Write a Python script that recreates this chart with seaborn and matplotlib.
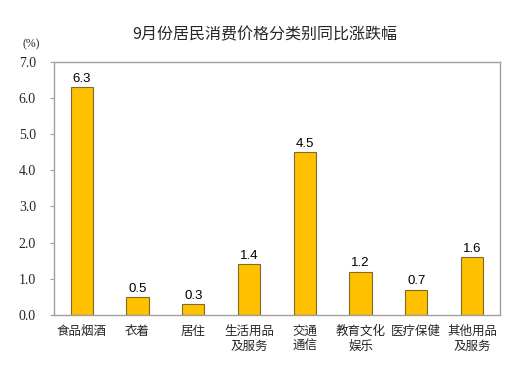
import matplotlib
matplotlib.use("Agg")
import matplotlib.pyplot as plt
import pandas as pd
import seaborn as sns

categories = ["食品烟酒", "衣着", "居住", "生活用品\n及服务", "交通\n通信", "教育文化\n娱乐", "医疗保健", "其他用品\n及服务"]
values = [6.3, 0.5, 0.3, 1.4, 4.5, 1.2, 0.7, 1.6]
yticks = [0.0, 1.0, 2.0, 3.0, 4.0, 5.0, 6.0, 7.0]

sns.set_style("white")
plt.rcParams['font.family'] = ['Noto Sans CJK SC', 'DejaVu Sans']

df = pd.DataFrame({"cat": categories, "val": values})

fig = plt.figure(figsize=(5.29, 3.78), dpi=100)
ax = fig.add_axes([0.102, 0.167, 0.843, 0.669])

sns.barplot(data=df, x="cat", y="val", color="#FFC000", width=0.4,
            edgecolor="#7F6A2A", linewidth=0.8, saturation=1, ax=ax)

for i, v in enumerate(values):
    ax.text(i, v + 0.06, f"{v:.1f}", ha="center", va="bottom",
            fontsize=9.5, family="Liberation Sans", color="black")

ax.set_ylim(0, 7)
ax.set_yticks(yticks)
ax.set_yticklabels([f"{t:.1f}" for t in yticks], family="Liberation Serif", fontsize=10)
ax.set_xlabel("")
ax.set_ylabel("")
ax.tick_params(axis="x", length=0, labelsize=9, pad=7)
for lab in ax.get_xticklabels():
    lab.set_linespacing(1.25)
ax.tick_params(axis="y", length=3, color="#A0A0A0", left=True, pad=10)
for s in ax.spines.values():
    s.set_color("#A0A0A0")
    s.set_linewidth(1.0)

fig.text(0.042, 0.875, "(%)", family="Liberation Serif", fontsize=8.5)
fig.text(0.5, 0.897, "9月份居民消费价格分类别同比涨跌幅", ha="center",
         fontsize=11.5, fontweight="medium")

fig.savefig("out.png", dpi=100)
